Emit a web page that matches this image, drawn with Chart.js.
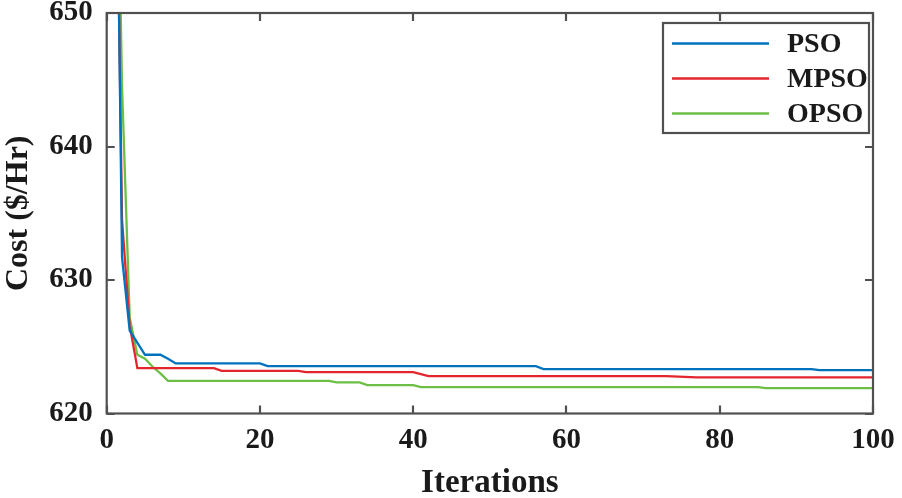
<!DOCTYPE html>
<html>
<head>
<meta charset="utf-8">
<script src="https://cdn.jsdelivr.net/npm/chart.js@4/dist/chart.umd.min.js"></script>
<style>
  html, body { margin: 0; padding: 0; background: #fff; }
  #wrap { width: 902px; height: 498px; }
</style>
</head>
<body>
<div id="wrap"><canvas id="costChart" width="902" height="498"></canvas></div>
<script>
// Datos (iteración, coste en $/Hr) - solo puntos de cambio
const psoIter  = [1, 2, 3, 5, 7, 8, 9, 20, 21, 56, 57, 92, 93, 100];
const psoCost  = [678, 631.7, 626.2, 624.4, 624.4, 624.1, 623.75, 623.75, 623.55, 623.55, 623.33, 623.33, 623.25, 623.25];

const mpsoIter = [1, 2, 3, 4, 14, 15, 25, 26, 40, 42, 73, 77, 100];
const mpsoCost = [674, 634.5, 626.6, 623.4, 623.4, 623.2, 623.2, 623.1, 623.1, 622.8, 622.8, 622.7, 622.7];

const opsoIter = [1, 2, 3, 4, 5, 6, 7, 8, 29, 30, 33, 34, 40, 41, 85, 86, 100];
const opsoCost = [676, 644.5, 627.2, 624.4, 624.1, 623.5, 623.0, 622.45, 622.45, 622.33, 622.33, 622.13, 622.13, 621.98, 621.98, 621.9, 621.9];

const seriesNames  = ['PSO', 'MPSO', 'OPSO'];
const seriesColors = ['#0072BD', '#E3262E', '#6DBE45'];

const xTicks = [0, 20, 40, 60, 80, 100];
const yTicks = [620, 630, 640, 650];

const FONT = '"Liberation Serif", "Times New Roman", serif';
const AXIS_COLOR = '#505050';

function toPoints(iters, costs) {
    return iters.map((it, i) => ({ x: it, y: costs[i] }));
}

// Marco tipo MATLAB con marcas hacia dentro
const framePlugin = {
    id: 'frame',
    afterDatasetsDraw(chart) {
        const { ctx, chartArea: a, scales } = chart;
        const tick = 8;
        ctx.save();
        ctx.strokeStyle = AXIS_COLOR;
        ctx.lineWidth = 2.2;
        ctx.beginPath();
        xTicks.forEach(v => {
            const px = Math.round(scales.x.getPixelForValue(v));
            ctx.moveTo(px, a.bottom); ctx.lineTo(px, a.bottom - tick);
            ctx.moveTo(px, a.top);    ctx.lineTo(px, a.top + tick);
        });
        yTicks.forEach(v => {
            const py = Math.round(scales.y.getPixelForValue(v));
            ctx.moveTo(a.left, py);  ctx.lineTo(a.left + tick, py);
            ctx.moveTo(a.right, py); ctx.lineTo(a.right - tick, py);
        });
        ctx.stroke();
        ctx.strokeRect(a.left, a.top, a.right - a.left, a.bottom - a.top);
        ctx.restore();
    }
};

// Leyenda dentro del área del gráfico (esquina superior derecha)
const legendPlugin = {
    id: 'boxLegend',
    afterDraw(chart) {
        const { ctx, chartArea: a } = chart;
        const w = 206, h = 110;
        const left = a.right - 4 - w;
        const top = a.top + 10;
        ctx.save();
        ctx.fillStyle = '#fff';
        ctx.fillRect(left, top, w, h);
        ctx.strokeStyle = AXIS_COLOR;
        ctx.lineWidth = 2.2;
        ctx.strokeRect(left, top, w, h);
        ctx.font = 'bold 28px ' + FONT;
        ctx.textBaseline = 'middle';
        ctx.fillStyle = '#1a1a1a';
        chart.data.datasets.forEach((ds, i) => {
            const y = top + 20.5 + i * 35;
            ctx.strokeStyle = ds.borderColor;
            ctx.lineWidth = 2.5;
            ctx.beginPath();
            ctx.moveTo(left + 9, y);
            ctx.lineTo(left + 106, y);
            ctx.stroke();
            ctx.fillText(ds.label, left + 124, y + 1);
        });
        ctx.restore();
    }
};

new Chart(document.getElementById('costChart').getContext('2d'), {
    type: 'line',
    data: {
        datasets: [
            { label: seriesNames[0], data: toPoints(psoIter, psoCost),  borderColor: seriesColors[0] },
            { label: seriesNames[1], data: toPoints(mpsoIter, mpsoCost), borderColor: seriesColors[1] },
            { label: seriesNames[2], data: toPoints(opsoIter, opsoCost), borderColor: seriesColors[2] }
        ].map(ds => Object.assign(ds, {
            borderWidth: 2.3,
            pointRadius: 0,
            tension: 0,
            fill: false,
            clip: 0
        }))
    },
    options: {
        responsive: false,
        animation: false,
        layout: { padding: { left: 0, right: 29, top: 13, bottom: 0 } },
        plugins: {
            legend: { display: false },
            tooltip: { enabled: false }
        },
        scales: {
            x: {
                type: 'linear',
                min: 0,
                max: 100,
                afterBuildTicks: s => { s.ticks = xTicks.map(v => ({ value: v })); },
                afterFit: s => {
                    s.height = 84.5;
                    s.paddingLeft = 0; s.paddingRight = 0;
                },
                grid: { display: false, drawTicks: false },
                border: { display: false },
                ticks: {
                    padding: 10,
                    color: '#1a1a1a',
                    font: { family: FONT, size: 29, weight: 'bold' },
                    maxRotation: 0
                },
                title: {
                    display: true,
                    text: 'Iterations',
                    color: '#1a1a1a',
                    padding: { top: 0, bottom: 0 },
                    font: { family: FONT, size: 33, weight: 'bold', lineHeight: 0.88 }
                }
            },
            y: {
                type: 'linear',
                min: 620,
                max: 650,
                afterBuildTicks: s => { s.ticks = yTicks.map(v => ({ value: v })); },
                afterFit: s => {
                    s.width = 106.7;
                    s.paddingTop = 0; s.paddingBottom = 0;
                },
                grid: { display: false, drawTicks: false },
                border: { display: false },
                ticks: {
                    padding: 14,
                    color: '#1a1a1a',
                    font: { family: FONT, size: 29, weight: 'bold' }
                },
                title: {
                    display: true,
                    text: 'Cost ($/Hr)',
                    color: '#1a1a1a',
                    padding: { top: 0, bottom: 0 },
                    font: { family: FONT, size: 32, weight: 'bold', lineHeight: 1.2 }
                }
            }
        }
    },
    plugins: [framePlugin, legendPlugin]
});
</script>
</body>
</html>
